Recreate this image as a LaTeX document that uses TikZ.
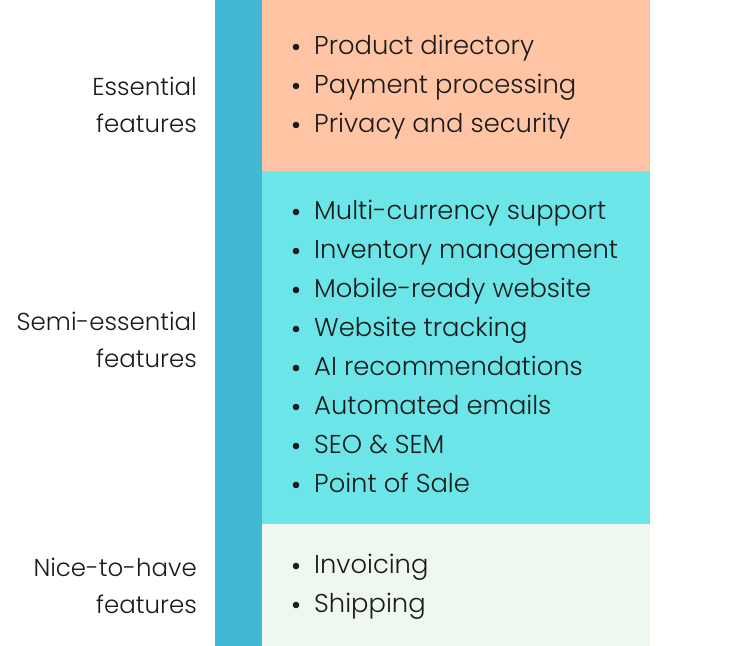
\documentclass[tikz,border=0pt]{standalone}
\usepackage{fontspec}
\setmainfont{Poppins}[UprightFont={* Light}]
\definecolor{barblue}{HTML}{42B8D5}
\definecolor{boxorange}{HTML}{FFC4A4}
\definecolor{boxcyan}{HTML}{6BE5E8}
\definecolor{boxgreen}{HTML}{EEF8F0}
\definecolor{txt}{HTML}{1A1A1A}
\begin{document}
\begin{tikzpicture}[x=1pt,y=-1pt,
  item/.style={anchor=base west,inner sep=0pt,font=\fontsize{25.8}{30}\selectfont,text=txt},
  lab/.style={anchor=base east,inner sep=0pt,font=\fontsize{24.5}{30}\selectfont,text=txt},
  dot/.style={fill=txt,draw=none}]
\useasboundingbox (0,0) rectangle (756,646);
\fill[white] (0,0) rectangle (756,646);
\fill[barblue] (215,0) rectangle (262,646);
\fill[boxorange] (262,0) rectangle (650,171);
\fill[boxcyan] (262,171) rectangle (650,524);
\fill[boxgreen] (262,524) rectangle (650,646);
% labels
\node[lab] (l1a) at (197,95) {Essential};
\node[lab] (l1b) at (197,132) {features};
\node[lab] (l2a) at (197,330) {Semi-essential};
\node[lab] (l2b) at (197,367) {features};
\node[lab] (l3a) at (197,576) {Nice-to-have};
\node[lab] (l3b) at (197,613) {features};
% items
\foreach \t/\y [count=\i] in {Product directory/54,Payment processing/93,Privacy and security/132,
  Multi-currency support/219,Inventory management/258,Mobile-ready website/297,Website tracking/336,
  AI recommendations/375,Automated emails/414,SEO \& SEM/453,Point of Sale/492,
  Invoicing/573,Shipping/612}{
  \node[item] (it\i) at (314,\y) {\t};
  \fill[dot] (296,\y-7) circle (3.3);
}
\end{tikzpicture}
\end{document}
